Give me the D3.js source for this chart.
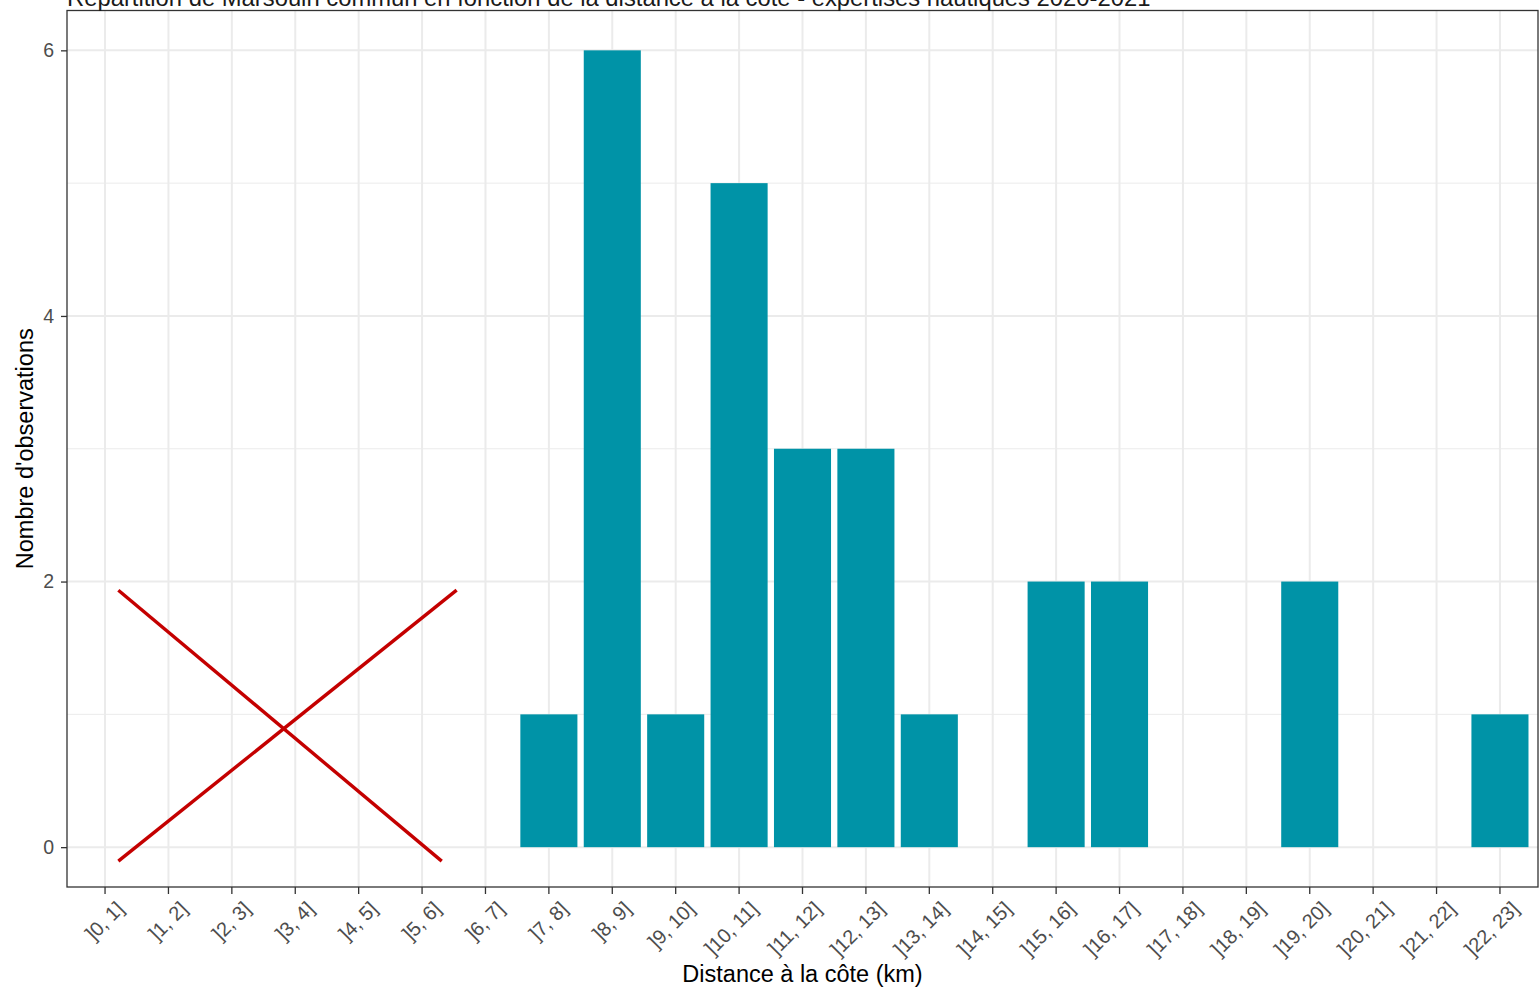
<!DOCTYPE html>
<html>
<head>
<meta charset="utf-8">
<script src="https://cdn.jsdelivr.net/npm/d3@7"></script>
<style>
  body { margin: 0; background: #fff; }
  text { font-family: "Liberation Sans", Arial, sans-serif; }
</style>
</head>
<body>
<div id="chart"></div>
<script>
// Data
const categories = ["]0, 1]", "]1, 2]", "]2, 3]", "]3, 4]", "]4, 5]", "]5, 6]", "]6, 7]", "]7, 8]",
  "]8, 9]", "]9, 10]", "]10, 11]", "]11, 12]", "]12, 13]", "]13, 14]", "]14, 15]", "]15, 16]",
  "]16, 17]", "]17, 18]", "]18, 19]", "]19, 20]", "]20, 21]", "]21, 22]", "]22, 23]"];
const counts = [0, 0, 0, 0, 0, 0, 0, 1, 6, 1, 5, 3, 3, 1, 0, 2, 2, 0, 0, 2, 0, 0, 1];
const yTicks = [0, 2, 4, 6];
const yMinor = [1, 3, 5];
// red cross over the first bins, in (category index, count) units
const crossLines = [
  [[0.21, 1.935], [5.31, -0.105]],
  [[0.21, -0.105], [5.545, 1.935]]
];

const titleText = "Répartition de Marsouin commun en fonction de la distance à la côte - expertises nautiques 2020-2021";

const width = 1539;
const height = 988;
const margin = { top: 10.5, right: 1, bottom: 101, left: 67 };
const innerW = width - margin.left - margin.right;
const innerH = height - margin.top - margin.bottom;

const svg = d3.select("#chart")
  .append("svg")
  .attr("width", width)
  .attr("height", height);

const g = svg.append("g")
  .attr("transform", `translate(${margin.left},${margin.top})`);

// scales (ggplot-like expansion)
const x = d3.scaleBand()
  .domain(categories)
  .range([0, innerW])
  .paddingInner(0.1)
  .paddingOuter(0.15);

const y = d3.scaleLinear()
  .domain([-0.3, 6.3])
  .range([innerH, 0]);

const xCenter = c => x(c) + x.bandwidth() / 2;
const xIdx = i => xCenter(categories[0]) + i * x.step();

// minor grid
g.selectAll(".minor")
  .data(yMinor)
  .enter().append("line")
  .attr("x1", 0).attr("x2", innerW)
  .attr("y1", d => y(d)).attr("y2", d => y(d))
  .attr("stroke", "#ebebeb")
  .attr("stroke-width", 1);

// major grid
g.selectAll(".hmajor")
  .data(yTicks)
  .enter().append("line")
  .attr("x1", 0).attr("x2", innerW)
  .attr("y1", d => y(d)).attr("y2", d => y(d))
  .attr("stroke", "#ebebeb")
  .attr("stroke-width", 2);

g.selectAll(".vmajor")
  .data(categories)
  .enter().append("line")
  .attr("x1", d => xCenter(d)).attr("x2", d => xCenter(d))
  .attr("y1", 0).attr("y2", innerH)
  .attr("stroke", "#ebebeb")
  .attr("stroke-width", 2);

// bars
g.selectAll(".bar")
  .data(categories.map((c, i) => ({ c, v: counts[i] })).filter(d => d.v > 0))
  .enter().append("rect")
  .attr("x", d => x(d.c))
  .attr("width", x.bandwidth())
  .attr("y", d => y(d.v))
  .attr("height", d => y(0) - y(d.v))
  .attr("fill", "#0093a7");

// red cross
g.selectAll(".cross")
  .data(crossLines)
  .enter().append("line")
  .attr("x1", d => xIdx(d[0][0])).attr("y1", d => y(d[0][1]))
  .attr("x2", d => xIdx(d[1][0])).attr("y2", d => y(d[1][1]))
  .attr("stroke", "#c40000")
  .attr("stroke-width", 3.4);

// panel border
g.append("rect")
  .attr("width", innerW)
  .attr("height", innerH)
  .attr("fill", "none")
  .attr("stroke", "#333333")
  .attr("stroke-width", 1.3);

// y axis
const yAxis = g.append("g")
  .call(d3.axisLeft(y).tickValues(yTicks).tickSize(6).tickPadding(7).tickFormat(d3.format("d")));
yAxis.select(".domain").remove();
yAxis.selectAll(".tick line").attr("stroke", "#333333").attr("stroke-width", 1.3);
yAxis.selectAll(".tick text")
  .attr("fill", "#4d4d4d")
  .style("font-size", "19.5px");

// x axis
const xAxis = g.append("g")
  .attr("transform", `translate(0,${innerH})`)
  .call(d3.axisBottom(x).tickSize(7).tickPadding(0));
xAxis.select(".domain").remove();
xAxis.selectAll(".tick line").attr("stroke", "#333333").attr("stroke-width", 1.3);
xAxis.selectAll(".tick text")
  .attr("fill", "#4d4d4d")
  .style("font-size", "20px")
  .attr("text-anchor", "end")
  .attr("dy", "0.72em")
  .attr("transform", "translate(5,8) rotate(-45)");

// axis titles
svg.append("text")
  .attr("x", margin.left + innerW / 2)
  .attr("y", 982)
  .attr("text-anchor", "middle")
  .style("font-size", "23.5px")
  .attr("fill", "#000")
  .text("Distance à la côte (km)");

svg.append("text")
  .attr("transform", `translate(33,${margin.top + innerH / 2}) rotate(-90)`)
  .attr("text-anchor", "middle")
  .style("font-size", "23.5px")
  .attr("fill", "#000")
  .text("Nombre d'observations");

// title (cut at the top of the picture, as in the source)
svg.append("text")
  .attr("x", 67)
  .attr("y", 5.5)
  .style("font-size", "23.8px")
  .attr("fill", "#1a1a1a")
  .text(titleText);
</script>
</body>
</html>
